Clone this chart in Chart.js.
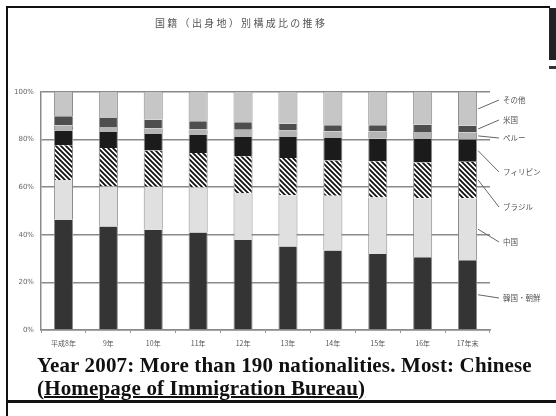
<!DOCTYPE html>
<html>
<head>
<meta charset="utf-8">
<style>
  html, body { margin: 0; padding: 0; background: #fff; }
  #wrap { position: relative; width: 556px; height: 416px; overflow: hidden; background: #fff; }
  #chart { position: absolute; left: 0; top: 0; }
  #title { position: absolute; left: 155px; top: 15px; font: 10px "Noto Sans CJK JP", sans-serif; letter-spacing: 2.3px; color: #555; white-space: nowrap; }
  #caption { position: absolute; left: 37px; top: 354.2px; font: bold 21px "Liberation Serif", "Times New Roman", serif; letter-spacing: 0.15px; line-height: 22.5px; color: #111; white-space: nowrap; }
  #caption u { text-decoration-thickness: 1.5px; }
  .bar { position: absolute; background: #111; }
</style>
</head>
<body>
<div id="wrap">
  <canvas id="chart" width="556" height="416"></canvas>
  <div id="title">国籍（出身地）別構成比の推移</div>
  <div id="caption">Year 2007: More than 190 nationalities. Most: Chinese<br><u>(Homepage of Immigration Bureau)</u></div>
  <!-- slide frame -->
  <div class="bar" style="left:6px;top:6px;width:2px;height:410px"></div>
  <div class="bar" style="left:6px;top:6px;width:544px;height:2px"></div>
  <div class="bar" style="left:549px;top:8px;width:7px;height:52px;background:#222"></div>
  <div class="bar" style="left:549px;top:66px;width:7px;height:3px;background:#333"></div>
  <div class="bar" style="left:6px;top:400px;width:550px;height:3px"></div>
</div>
<script src="https://cdn.jsdelivr.net/npm/chart.js@4/dist/chart.umd.min.js"></script>
<script>
const years = ['平成8年', '9年', '10年', '11年', '12年', '13年', '14年', '15年', '16年', '17年末'];
const korea = [46.3, 43.5, 42.1, 41.0, 37.8, 35.1, 33.4, 31.9, 30.6, 29.3];
const china = [16.7, 16.8, 18.1, 18.9, 19.8, 21.5, 23.0, 23.8, 24.8, 26.1];
const brazil = [14.6, 16.2, 15.2, 14.5, 15.4, 15.7, 14.8, 15.2, 15.0, 15.3];
const philippines = [6.2, 6.7, 7.0, 7.7, 8.1, 8.8, 9.5, 9.5, 9.9, 9.3];
const peru = [2.2, 2.1, 2.4, 2.1, 3.0, 2.7, 2.8, 3.0, 2.9, 3.1];
const usa = [3.8, 3.8, 3.5, 3.5, 3.2, 2.9, 2.5, 2.6, 3.0, 2.7];
const others = [10.2, 10.9, 11.7, 12.3, 12.7, 13.3, 14.0, 14.0, 13.8, 14.2];
const seriesNames = ['韓国・朝鮮', '中国', 'ブラジル', 'フィリピン', 'ペルー', '米国', 'その他'];

const canvas = document.getElementById('chart');
const ctx = canvas.getContext('2d');

// diagonal hatch for ブラジル
const tile = document.createElement('canvas');
tile.width = 5; tile.height = 5;
const t = tile.getContext('2d');
t.fillStyle = '#fff';
t.fillRect(0, 0, 5, 5);
t.strokeStyle = '#111';
t.lineWidth = 1.8;
t.beginPath();
t.moveTo(-1, -1); t.lineTo(6, 6);
t.moveTo(4, -1); t.lineTo(6, 1);
t.moveTo(-1, 4); t.lineTo(1, 6);
t.stroke();
const hatch = ctx.createPattern(tile, 'repeat');

// leader lines + names on the right of the last bar
const labelY = [298, 242, 207, 172, 138, 120, 100];
const sideLabels = {
  id: 'sideLabels',
  afterDraw(chart) {
    const c = chart.ctx;
    c.save();
    c.strokeStyle = '#666';
    c.lineWidth = 1;
    c.fillStyle = '#555';
    c.font = '7.5px "Noto Sans CJK JP", sans-serif';
    c.textBaseline = 'middle';
    chart.data.datasets.forEach((ds, i) => {
      const el = chart.getDatasetMeta(i).data[years.length - 1];
      const p = el.getProps(['x', 'y', 'base', 'width'], true);
      const x0 = p.x + p.width / 2 + 1;
      const y0 = (p.y + p.base) / 2;
      c.beginPath();
      c.moveTo(x0, y0);
      c.lineTo(499, labelY[i]);
      c.stroke();
      c.fillText(seriesNames[i], 503, labelY[i]);
    });
    c.restore();
  }
};

const fills = ['#343434', '#e0e0e0', hatch, '#1b1b1b', '#b4b4b4', '#4e4e4e', '#c6c6c6'];
const values = [korea, china, brazil, philippines, peru, usa, others];

new Chart(canvas, {
  type: 'bar',
  data: {
    labels: years,
    datasets: values.map((v, i) => ({
      label: seriesNames[i],
      data: v,
      backgroundColor: fills[i],
      borderColor: '#8c8c8c',
      borderWidth: { left: 1, right: 1, top: 0, bottom: 0 },
      barPercentage: 0.425,
      categoryPercentage: 1
    }))
  },
  options: {
    responsive: false,
    animation: false,
    layout: { padding: { top: 92, right: 66, left: 0, bottom: 0 } },
    plugins: { legend: { display: false }, tooltip: { enabled: false } },
    scales: {
      x: {
        stacked: true,
        afterFit: s => { s.height = 86; },
        grid: { drawOnChartArea: false, tickLength: 3, color: '#999', offset: true },
        border: { color: '#8a8a8a', width: 1.5 },
        ticks: { color: '#555', font: { size: 7, family: '"Noto Sans CJK JP", sans-serif' }, padding: 6, maxRotation: 0, autoSkip: false }
      },
      y: {
        stacked: true,
        min: 0,
        max: 100,
        afterFit: s => { s.width = 41; },
        grid: { color: '#8a8a8a', lineWidth: 1.5, drawTicks: false },
        border: { color: '#8a8a8a', width: 1.5 },
        ticks: { stepSize: 20, color: '#666', font: { size: 7, family: 'DejaVu Sans' }, padding: 7, callback: v => v + '%' }
      }
    }
  },
  plugins: [sideLabels]
});
</script>
</body>
</html>
